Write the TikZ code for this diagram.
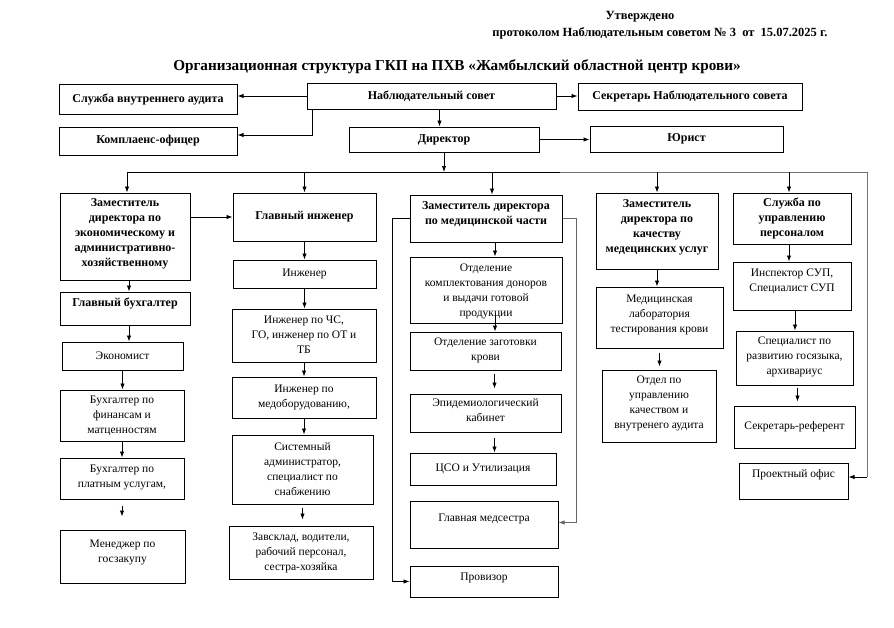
\documentclass[tikz,border=0pt]{standalone}
\usepackage{fontspec}
\setmainfont{Liberation Serif}
\usetikzlibrary{arrows.meta}
% #1 style, #2 name, #3-#6 corners, #7 text, #8 vertical shift of text
\newcommand\mkbox[8]{\node[#1, minimum width={#5-#3}, minimum height={#6-#4}] (#2) at ({(#3+#5)/2},{(#4+#6)/2}) {};
  \node[#1 text, yshift=#8pt] (#2-t) at (#2.center) {#7};}
\begin{document}
\begin{tikzpicture}[x=1pt,y=-1pt,
  box/.style={draw, line width=1pt, inner sep=0pt},
  bbox/.style={box},
  box text/.style={align=center, inner sep=0pt, font=\fontsize{11.5}{15}\selectfont},
  bbox text/.style={align=center, inner sep=0pt, font=\bfseries\fontsize{12}{15}\selectfont},
  tight text/.style={box text, font=\fontsize{11.5}{14}\selectfont},
  arr/.style={-{Latex[length=6pt,width=4.5pt]}, line width=0.9pt},
  gline/.style={line width=0.9pt, draw=black!55},
  hdr/.style={font=\bfseries\fontsize{12.5}{14}\selectfont, inner sep=0pt},
  ttl/.style={font=\bfseries\fontsize{15.2}{18}\selectfont, inner sep=0pt}]
\useasboundingbox[fill=white] (0,0) rectangle (894,627);

% header
\node[hdr] (appr) at (640,17) {Утверждено};
\node[hdr] (prot) at (660,33) {протоколом Наблюдательным советом № 3\ \ от\ \ 15.07.2025 г.};
\node[ttl] (title) at (457,67) {Организационная структура ГКП на ПХВ «Жамбылский областной центр крови»};

% top level
\mkbox{bbox}{audit}{59}{84}{237}{114}{Служба внутреннего аудита}{0}
\mkbox{bbox}{ns}{307}{83}{556}{109}{Наблюдательный совет}{0}
\mkbox{bbox}{sec}{578}{83}{802}{110}{Секретарь Наблюдательного совета}{0}
\mkbox{bbox}{comp}{59}{127}{237}{155}{Комплаенс-офицер}{0}
\mkbox{bbox}{dir}{349}{127}{539}{152}{Директор}{0}
\mkbox{bbox}{jur}{590}{126}{783}{152}{Юрист}{0}

% second level
\mkbox{bbox}{zek}{60}{193}{190}{280}{Заместитель\\директора по\\экономическому и\\административно-\\хозяйственному}{3}
\mkbox{bbox}{gi}{233}{193}{376}{241}{Главный инженер}{0}
\mkbox{bbox}{zmed}{410}{195}{562}{242}{Заместитель директора\\по медицинской части}{4.5}
\mkbox{bbox}{zk}{596}{193}{718}{269}{Заместитель\\директора по\\качеству\\медецинских услуг}{3.5}
\mkbox{bbox}{sup}{733}{193}{851}{244}{Служба по\\управлению\\персоналом}{0}

% column 1
\mkbox{bbox}{gb}{60}{292}{190}{325}{Главный бухгалтер}{5}
\mkbox{box}{ek}{62}{342}{183}{370}{Экономист}{0}
\mkbox{box}{bf}{60}{390}{184}{441}{Бухгалтер по\\финансам и\\матценностям}{0}
\mkbox{box}{bp}{60}{458}{184}{499}{Бухгалтер по\\платным услугам,}{1}
\mkbox{box}{mg}{60}{530}{185}{583}{Менеджер по\\госзакупу}{4}

% column 2
\mkbox{box}{ing}{233}{260}{376}{288}{Инженер}{0}
\mkbox{box}{ichs}{232}{309}{376}{362}{Инженер по ЧС,\\ГО, инженер по ОТ и\\ТБ}{1}
\mkbox{box}{imed}{232}{377}{376}{418}{Инженер по\\медоборудованию,}{0}
\mkbox{box}{sys}{232}{435}{373}{504}{Системный\\администратор,\\специалист по\\снабжению}{0}
\mkbox{box}{zav}{229}{526}{373}{579}{Завсклад, водители,\\рабочий персонал,\\сестра-хозяйка}{0}

% column 3
\mkbox{box}{otk}{410}{257}{562}{323}{Отделение\\комплектования доноров\\и выдачи готовой\\продукции}{-1}
\mkbox{box}{zag}{410}{332}{561}{370}{Отделение заготовки\\крови}{1}
\mkbox{box}{epi}{410}{394}{561}{432}{Эпидемиологический\\кабинет}{3}
\mkbox{box}{cso}{410}{453}{556}{485}{ЦСО и Утилизация}{0}
\mkbox{box}{gm}{410}{501}{558}{548}{Главная медсестра}{6}
\mkbox{box}{prov}{410}{566}{558}{597}{Провизор}{4}

% column 4
\mkbox{box}{mlab}{596}{287}{723}{348}{Медицинская\\лаборатория\\тестирования крови}{3}
\mkbox{box}{otd}{602}{370}{716}{442}{Отдел по\\управлению\\качеством и\\внутренего аудита}{3}

% column 5
\mkbox{box}{insp}{733}{262}{851}{310}{Инспектор СУП,\\Специалист СУП}{5}
\mkbox{box}{spec}{736}{331}{853}{385}{Специалист по\\развитию госязыка,\\архивариус}{1}
\mkbox{box}{sref}{734}{406}{855}{448}{Секретарь-референт}{0}
\mkbox{box}{proj}{739}{463}{848}{499}{Проектный офис}{6}

% bus
\coordinate (busL) at (127,172);
\coordinate (busM) at (560,172);
\coordinate (busR) at (867,172);
\coordinate (busB) at (867,477);

% top connectors
\draw[arr] (ns.west) -- (ns.west -| audit.east);
\draw[arr] (ns.east) -- (ns.east -| sec.west);
\draw[arr] ([xshift=6pt]ns.south west) |- ([yshift=6pt]comp.east);
\draw[arr] ([xshift=8pt]ns.south) -- ([xshift=8pt]ns.south |- dir.north);
\draw[arr] (dir.east) -- (dir.east -| jur.west);
\draw[arr] (dir.south) -- (dir.south |- busL);

% bus lines
\draw[line width=0.9pt] (busL) -- (busM);
\draw[gline] (busM) -- (busR) -- (busB);
\draw[arr] (busB) -- (busB -| proj.east);

% bus drops
\draw[arr] (busL) -- (busL |- zek.north);
\draw[arr] (gi.north |- busL) -- (gi.north);
\draw[arr] ([xshift=6pt]zmed.north |- busL) -- ([xshift=6pt]zmed.north);
\draw[arr] (zk.north |- busL) -- (zk.north);
\draw[arr] ([xshift=-3pt]sup.north |- busL) -- ([xshift=-3pt]sup.north);

% column 1
\draw[arr] (zek.east |- gi.west) -- (gi.west);
\draw[arr] ([xshift=4pt]zek.south) -- ([xshift=4pt]zek.south |- gb.north);
\draw[arr] ([xshift=4pt]gb.south) -- ([xshift=4pt]gb.south |- ek.north);
\draw[arr] (ek.south) -- (ek.south |- bf.north);
\draw[arr] (bf.south) -- (bf.south |- bp.north);
\draw[arr, shorten <=6pt, shorten >=13pt] (bp.south) -- (bp.south |- mg.north);

% column 2
\draw[arr] (gi.south) -- (gi.south |- ing.north);
\draw[arr] (ing.south) -- (ing.south |- ichs.north);
\draw[arr] (ichs.south) -- (ichs.south |- imed.north);
\draw[arr] (imed.south) -- (imed.south |- sys.north);
\draw[arr, shorten <=3pt, shorten >=6pt] (sys.south) -- (sys.south |- zav.north);

% column 3
\draw[arr] ([xshift=9pt]zmed.south) -- ([xshift=9pt]zmed.south |- otk.north);
\draw[arr] ([xshift=9pt,yshift=10pt]otk.south) -- ([xshift=9pt]otk.south |- zag.north);
\draw[arr, shorten <=3pt, shorten >=5pt] ([xshift=9pt]zag.south) -- ([xshift=9pt]zag.south |- epi.north);
\draw[arr, shorten <=5pt] ([xshift=9pt]epi.south) -- ([xshift=9pt]epi.south |- cso.north);
\draw[arr, draw=black!60] (zmed.east) -- ++(14,0) |- ([yshift=2pt]gm.east);
\draw[arr] (zmed.west) -- ++(-17,0) |- (prov.west);

% column 4
\draw[arr] (zk.south) -- (zk.south |- mlab.north);
\draw[arr, shorten <=4pt, shorten >=3pt] (mlab.south) -- (mlab.south |- otd.north);

% column 5
\draw[arr] ([xshift=-3pt]sup.south) -- ([xshift=-3pt]sup.south |- insp.north);
\draw[arr] ([xshift=3pt]insp.south) -- ([xshift=3pt]insp.south |- spec.north);
\draw[arr, shorten <=2pt, shorten >=4pt] ([xshift=3pt]spec.south) -- ([xshift=3pt]spec.south |- sref.north);
\end{tikzpicture}
\end{document}
